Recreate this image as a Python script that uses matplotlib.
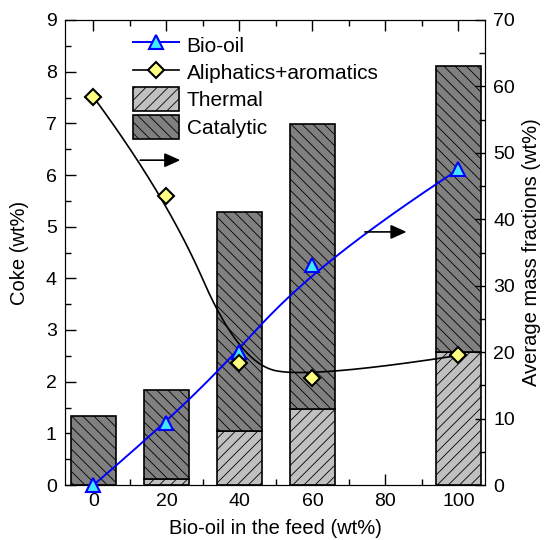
import numpy as np
import matplotlib
matplotlib.use('Agg')
import matplotlib.pyplot as plt
from matplotlib.lines import Line2D
from matplotlib.patches import Patch
from matplotlib.ticker import MultipleLocator

plt.rcParams['font.family'] = ['Liberation Sans', 'DejaVu Sans']
plt.rcParams['hatch.linewidth'] = 0.6

# data
bio_oil_feed = [0, 20, 40, 60, 100]
coke_thermal = [0.0, 0.11, 1.05, 1.47, 2.58]
coke_total = [1.34, 1.83, 5.28, 6.98, 8.11]
bio_oil_frac = [0.0, 9.4, 20.0, 33.1, 47.5]
aliph_arom = [58.4, 43.5, 18.3, 16.1, 19.5]


def bspline(xs, ys, k=3, num=300):
    # clamped B-spline, points used as control points (like Origin's B-spline)
    xs = np.asarray(xs, float)
    ys = np.asarray(ys, float)
    n = len(xs)
    t = np.concatenate([np.zeros(k), np.linspace(0, 1, n - k + 1), np.ones(k)])
    u = np.linspace(0, 1, num)
    B = np.zeros((num, len(t) - 1))
    for i in range(len(t) - 1):
        B[:, i] = (u >= t[i]) & (u < t[i + 1])
    B[u == 1, n - 1] = 1
    for p in range(1, k + 1):
        Bn = np.zeros((num, len(t) - 1 - p))
        for i in range(len(t) - 1 - p):
            d1 = t[i + p] - t[i]
            d2 = t[i + p + 1] - t[i + 1]
            a = (u - t[i]) / d1 * B[:, i] if d1 > 0 else 0
            b = (t[i + p + 1] - u) / d2 * B[:, i + 1] if d2 > 0 else 0
            Bn[:, i] = a + b
        B = Bn
    return B @ xs, B @ ys


fig = plt.figure(figsize=(5.47, 5.40), dpi=100)
ax = fig.add_axes([65 / 547, 1 - 485 / 540, 420 / 547, 465 / 540])

catalytic = np.array(coke_total) - np.array(coke_thermal)
w = 12.4
ax.bar(bio_oil_feed, coke_thermal, width=w, color='#c0c0c0', edgecolor='black',
       linewidth=1.2, hatch='///', zorder=2)
ax.bar(bio_oil_feed, catalytic, bottom=coke_thermal, width=w, color='#808080',
       edgecolor='black', linewidth=1.2, hatch='\\\\\\', zorder=2)

ax.set_xlim(-7.8, 107.3)
ax.set_ylim(0, 9)
ax.xaxis.set_major_locator(MultipleLocator(20))
ax.xaxis.set_minor_locator(MultipleLocator(10))
ax.yaxis.set_major_locator(MultipleLocator(1))
ax.yaxis.set_minor_locator(MultipleLocator(0.5))
ax.tick_params(which='both', direction='in', top=True, labelsize=14, width=1)
ax.tick_params(which='major', length=8, pad=6)
ax.tick_params(which='minor', length=4)
ax.set_xlabel('Bio-oil in the feed (wt%)', fontsize=14.5, labelpad=6)
ax.set_ylabel('Coke (wt%)', fontsize=14.5, labelpad=12)

ax2 = ax.twinx()
ax2.set_ylim(0, 70)
ax2.yaxis.set_major_locator(MultipleLocator(10))
ax2.yaxis.set_minor_locator(MultipleLocator(5))
ax2.tick_params(which='both', direction='in', labelsize=14, width=1)
ax2.tick_params(which='major', length=7, pad=6)
ax2.tick_params(which='minor', length=4)
ax2.set_ylabel('Average mass fractions (wt%)', fontsize=14.5, labelpad=5)

bx, by = bspline(bio_oil_feed, bio_oil_frac, k=3)
ax2.plot(bx, by, color='#0000ff', lw=1.4, zorder=3)
ax2.plot(bio_oil_feed, bio_oil_frac, ls='none', marker='^', ms=10,
         mfc='#40e8ff', mec='#0000ff', mew=1.5, zorder=4, clip_on=False)
axx, axy = bspline(bio_oil_feed, aliph_arom, k=2)
ax2.plot(axx, axy, color='black', lw=1.2, zorder=3)
ax2.plot(bio_oil_feed, aliph_arom, ls='none', marker='D', ms=8,
         mfc='#ffff80', mec='black', mew=1.5, zorder=4)

for x0, x1, yy in [(12.8, 23.8, 48.9), (74.4, 85.8, 38.1)]:
    ax2.annotate('', xy=(x1, yy), xytext=(x0, yy),
                 arrowprops=dict(arrowstyle='-|>,head_length=0.6,head_width=0.27',
                                 mutation_scale=16, color='black', lw=1.2,
                                 shrinkA=0, shrinkB=0))

handles = [
    Line2D([], [], color='#0000ff', lw=1.4, marker='^', ms=10, mfc='#40e8ff',
           mec='#0000ff', mew=1.5),
    Line2D([], [], color='black', lw=1.2, marker='D', ms=8, mfc='#ffff80',
           mec='black', mew=1.5),
    Patch(facecolor='#c0c0c0', edgecolor='black', hatch='///', linewidth=1.2),
    Patch(facecolor='#808080', edgecolor='black', hatch='\\\\\\', linewidth=1.2),
]
labels = ['Bio-oil', 'Aliphatics+aromatics', 'Thermal', 'Catalytic']
ax2.legend(handles, labels, loc='upper left', bbox_to_anchor=(0.143, 0.99),
           frameon=False, fontsize=15, handlelength=2.2, handleheight=1.4,
           labelspacing=0.15, handletextpad=0.35, borderaxespad=0)

fig.savefig('out.png', dpi=100)
